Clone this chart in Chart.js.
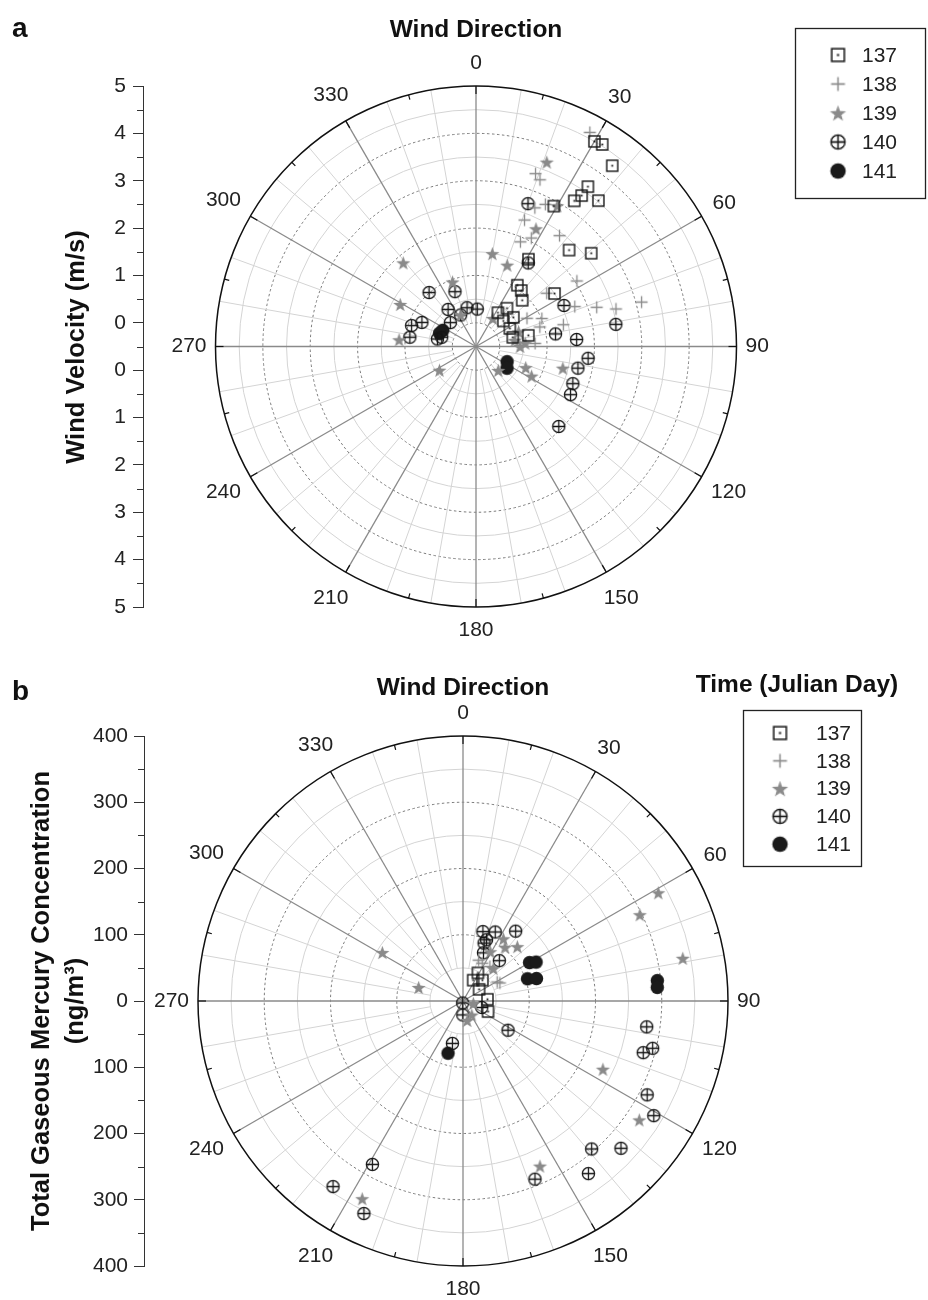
<!DOCTYPE html>
<html>
<head>
<meta charset="utf-8">
<script src="https://cdn.jsdelivr.net/npm/chart.js@4.4.0/dist/chart.umd.min.js"></script>
<style>
  body { margin: 0; background: #fff; }
  #wrap { position: relative; width: 928px; height: 1300px; }
  canvas { position: absolute; left: 0; }
  #chartA { top: 0; }
  #chartB { top: 660px; }
</style>
</head>
<body>
<div id="wrap">
  <canvas id="chartA" width="928" height="660"></canvas>
  <canvas id="chartB" width="928" height="640"></canvas>
</div>
<script>
const FONT = '"Liberation Sans", Arial, sans-serif';
const dayLabels = ['137', '138', '139', '140', '141'];
const directionTicks = [0, 30, 60, 90, 120, 150, 180, 210, 240, 270, 300, 330];

// panel a: wind direction (deg) / wind velocity (m/s)
const a137Dir = [30, 32, 37, 35, 35, 34, 40, 29, 44, 51, 31, 34, 39, 45, 56, 33, 39, 47, 52, 62, 76, 78];
const a137Vel = [4.50, 4.53, 4.28, 3.62, 3.39, 3.21, 3.52, 2.89, 2.33, 2.63, 1.65, 1.06, 1.02, 0.88, 1.50, 0.35, 0.54, 0.29, 0.50, 0.31, 0.30, 0.63];
const a138Dir = [28, 19, 21, 26, 23, 21, 23, 27, 37, 57, 53, 68, 72, 75, 75, 61, 67, 73, 76, 87];
const a138Vel = [4.62, 3.36, 3.27, 2.84, 2.68, 2.36, 1.90, 2.07, 2.43, 2.04, 1.37, 1.75, 2.18, 2.56, 3.12, 0.73, 1.01, 0.91, 1.40, 0.75];
const a139Dir = [21, 30, 27, 10, 21, 340, 319, 299, 275, 237, 31, 71, 86, 90, 81, 137, 113, 118, 104, 334];
const a139Vel = [3.67, 2.93, 2.29, 1.49, 1.34, 0.95, 1.84, 1.33, 1.13, 0.42, 0.19, 0.45, 0.54, 0.43, 0.33, 0.19, 0.64, 0.83, 1.39, 0.24];
const a140Dir = [20, 32, 65, 81, 81, 86, 96, 102, 111, 117, 134, 339, 319, 323, 347, 2, 334, 294, 288, 278, 313, 281, 285];
const a140Vel = [2.71, 1.58, 1.55, 2.49, 1.20, 1.63, 1.88, 1.70, 1.69, 1.74, 1.93, 0.74, 1.01, 0.48, 0.34, 0.29, 0.24, 0.75, 0.93, 0.91, 0.24, 0.33, 0.25];
const a141Dir = [296, 290, 116, 125];
const a141Vel = [0.28, 0.32, 0.23, 0.30];
const velocityTicks = [5, 4, 3, 2, 1, 0];

// panel b: wind direction (deg) / TGM (ng/m3)
const b137Dir = [28, 26, 43, 54, 86, 113];
const b137Tgm = [48, 35, 43, 30, 37, 41];
const b138Dir = [21, 27, 38, 61, 64];
const b138Tgm = [66, 64, 66, 59, 62];
const b139Dir = [61, 64, 79, 116, 124, 155, 207, 301, 287, 33, 38, 45, 29, 43, 103, 148, 168];
const b139Tgm = [337, 297, 338, 235, 321, 275, 335, 142, 70, 112, 103, 116, 85, 67, 16, 25, 30];
const b140Dir = [16, 25, 37, 21, 20, 23, 42, 190, 181, 109, 123, 194, 98, 104, 106, 117, 121, 139, 133, 144, 158, 209, 215, 205];
const b140Tgm = [109, 115, 132, 99, 93, 79, 82, 3, 21, 30, 81, 66, 280, 295, 283, 312, 336, 296, 326, 322, 290, 282, 342, 354];
const b141Dir = [60, 62, 71, 73, 84, 86, 196];
const b141Tgm = [116, 125, 103, 116, 295, 294, 82];
const tgmTicks = [400, 300, 200, 100, 0];

function marker(kind) {
    const s = 17, m = s / 2;
    const c = document.createElement('canvas');
    c.width = s;
    c.height = s;
    const g = c.getContext('2d');
    g.lineWidth = 1.4;
    if (kind === 'square') {
        g.strokeStyle = '#151515';
        g.strokeRect(m - 5.5, m - 5.5, 11, 11);
        g.fillStyle = '#151515';
        g.fillRect(m - 0.9, m - 0.9, 1.8, 1.8);
    } else if (kind === 'plus') {
        g.strokeStyle = '#8a8a8a';
        g.lineWidth = 1.3;
        g.beginPath();
        g.moveTo(m, m - 6); g.lineTo(m, m + 6);
        g.moveTo(m - 6, m); g.lineTo(m + 6, m);
        g.stroke();
    } else if (kind === 'star') {
        g.fillStyle = '#8a8a8a';
        g.beginPath();
        for (let i = 0; i < 10; i++) {
            const r = i % 2 ? 3.0 : 7.4;
            const a = -Math.PI / 2 + i * Math.PI / 5;
            g.lineTo(m + r * Math.cos(a), m + r * Math.sin(a) + 0.7);
        }
        g.closePath();
        g.fill();
    } else if (kind === 'circlePlus') {
        g.strokeStyle = '#151515';
        g.lineWidth = 1.3;
        g.beginPath();
        g.arc(m, m, 6.1, 0, 2 * Math.PI);
        g.stroke();
        g.beginPath();
        g.moveTo(m, m - 6.1); g.lineTo(m, m + 6.1);
        g.moveTo(m - 6.1, m); g.lineTo(m + 6.1, m);
        g.stroke();
    } else {
        g.fillStyle = '#1a1a1a';
        g.beginPath();
        g.arc(m, m, 6.7, 0, 2 * Math.PI);
        g.fill();
    }
    return c;
}

const markers = ['square', 'plus', 'star', 'circlePlus', 'dot'].map(marker);

function toXY(dirs, vals, offset) {
    return dirs.map(function (d, i) {
        const a = d * Math.PI / 180;
        const r = vals[i] + offset;
        return { x: r * Math.sin(a), y: r * Math.cos(a) };
    });
}

function buildDatasets(series, offset) {
    return series.map(function (s, i) {
        return {
            label: dayLabels[i],
            data: toXY(s[0], s[1], offset),
            pointStyle: markers[i],
            pointRadius: 7,
            showLine: false
        };
    });
}

const polarGrid = {
    id: 'polarGrid',
    beforeDatasetsDraw(chart, args, o) {
        const { ctx, scales: { x, y } } = chart;
        const cx = x.getPixelForValue(0), cy = y.getPixelForValue(0);
        const unit = cy - y.getPixelForValue(1);
        const rad = v => (v + o.offset) * unit;
        const R = rad(o.rMax);
        const pt = (d, r) => {
            const a = d * Math.PI / 180;
            return [cx + r * Math.sin(a), cy - r * Math.cos(a)];
        };
        ctx.save();
        ctx.lineWidth = 1;
        for (let v = 0; v < o.rMax - 1e-6; v += o.step / 2) {
            const major = Math.abs(v / o.step - Math.round(v / o.step)) < 1e-6;
            const r = rad(v);
            if (r < 2) continue;
            ctx.beginPath();
            ctx.arc(cx, cy, r, 0, 2 * Math.PI);
            ctx.setLineDash(major ? [2.5, 2.5] : []);
            ctx.strokeStyle = major ? '#7a7a7a' : '#d4d4d4';
            ctx.stroke();
        }
        ctx.setLineDash([]);
        ctx.strokeStyle = '#d4d4d4';
        for (let d = 10; d < 360; d += 10) {
            if (d % 30 === 0) continue;
            const p0 = pt(d, rad(o.spokeStart)), p1 = pt(d, R);
            ctx.beginPath();
            ctx.moveTo(p0[0], p0[1]);
            ctx.lineTo(p1[0], p1[1]);
            ctx.stroke();
        }
        ctx.strokeStyle = '#8a8a8a';
        ctx.lineWidth = 1.3;
        for (let d = 0; d < 360; d += 30) {
            const p1 = pt(d, R);
            ctx.beginPath();
            ctx.moveTo(cx, cy);
            ctx.lineTo(p1[0], p1[1]);
            ctx.stroke();
        }
        ctx.strokeStyle = '#111';
        ctx.lineWidth = 1.5;
        ctx.beginPath();
        ctx.arc(cx, cy, R, 0, 2 * Math.PI);
        ctx.stroke();
        ctx.lineWidth = 1.2;
        for (let d = 0; d < 360; d += 15) {
            const p0 = pt(d, R - (d % 30 === 0 ? 8 : 5)), p1 = pt(d, R);
            ctx.beginPath();
            ctx.moveTo(p0[0], p0[1]);
            ctx.lineTo(p1[0], p1[1]);
            ctx.stroke();
        }
        ctx.fillStyle = '#222';
        ctx.font = '21px ' + FONT;
        ctx.textAlign = 'center';
        ctx.textBaseline = 'middle';
        directionTicks.forEach(function (d) {
            const t = String(d);
            const a = d * Math.PI / 180;
            const w = ctx.measureText(t).width;
            const gap = 9 + Math.abs(Math.sin(a)) * w / 2 + Math.abs(Math.cos(a)) * 14;
            const p = pt(d, R + gap);
            ctx.fillText(t, p[0], p[1]);
        });
        ctx.restore();
    },
    afterDraw(chart, args, o) {
        const { ctx, chartArea, scales: { y } } = chart;
        ctx.save();
        // minor ticks on the left axis
        ctx.strokeStyle = '#333';
        ctx.lineWidth = 1;
        o.minorTicks.forEach(function (v) {
            const py = Math.round(y.getPixelForValue(v)) + 0.5;
            ctx.beginPath();
            ctx.moveTo(chartArea.left - 6, py);
            ctx.lineTo(chartArea.left, py);
            ctx.stroke();
        });
        ctx.fillStyle = '#111';
        ctx.textBaseline = 'alphabetic';
        ctx.textAlign = 'left';
        ctx.font = 'bold 28px ' + FONT;
        ctx.fillText(o.letter, 12, o.letterY);
        ctx.font = 'bold 24.5px ' + FONT;
        ctx.textAlign = 'center';
        ctx.textBaseline = 'middle';
        ctx.fillText('Wind Direction', o.titleX, o.titleY);
        if (o.legendTitle) {
            ctx.fillText(o.legendTitle, o.legendTitleX, o.legendTitleY);
        }
        ctx.font = 'bold 25.5px ' + FONT;
        o.axisTitle.forEach(function (line) {
            ctx.save();
            ctx.translate(line[1], o.axisTitleY);
            ctx.rotate(-Math.PI / 2);
            ctx.fillText(line[0], 0, 0);
            ctx.restore();
        });
        // legend
        const L = o.legend;
        ctx.strokeStyle = '#222';
        ctx.lineWidth = 1.3;
        ctx.strokeRect(L.x, L.y, L.w, L.h);
        ctx.font = '21px ' + FONT;
        ctx.textAlign = 'left';
        ctx.fillStyle = '#222';
        dayLabels.forEach(function (lab, i) {
            const ry = L.row0 + i * L.rowStep;
            const m = markers[i];
            const w = m.width * 1.15, h = m.height * 1.15;
            ctx.drawImage(m, L.markX - w / 2, ry - h / 2, w, h);
            ctx.fillText(lab, L.textX, ry + 1);
        });
        ctx.restore();
    }
};

function makeChart(canvas, cfg) {
    return new Chart(canvas, {
        type: 'scatter',
        data: { datasets: cfg.datasets },
        options: {
            responsive: false,
            animation: false,
            events: [],
            layout: { padding: cfg.padding },
            plugins: {
                legend: { display: false },
                tooltip: { enabled: false },
                polarGrid: cfg.polar
            },
            scales: {
                x: { display: false, min: cfg.xMin, max: cfg.xMax },
                y: {
                    position: 'left',
                    min: cfg.yMin,
                    max: cfg.yMax,
                    afterFit: function (s) { s.width = cfg.axisX; },
                    afterBuildTicks: function (s) {
                        s.ticks = cfg.majorTicks.map(function (v) { return { value: v }; });
                    },
                    ticks: {
                        callback: cfg.tickLabel,
                        font: { family: FONT, size: 21 },
                        color: '#222',
                        padding: cfg.tickPad
                    },
                    grid: { drawOnChartArea: false, tickLength: 10, tickColor: '#333', tickWidth: 1 },
                    border: { color: '#333', width: 1 }
                }
            }
        },
        plugins: [polarGrid]
    });
}

// panel a: radial axis has a hole of 0.5 m/s at the centre
const aOffset = 0.5;
const aUnit = (607 - 86) / 11;
const aMajor = [];
const aMinor = [];
velocityTicks.forEach(function (v) {
    aMajor.push(v + aOffset, -(v + aOffset));
});
for (let v = 0; v <= 5; v++) {
    aMinor.push(v);
    if (v) aMinor.push(-v);
}

makeChart(document.getElementById('chartA'), {
    datasets: buildDatasets([[a137Dir, a137Vel], [a138Dir, a138Vel], [a139Dir, a139Vel], [a140Dir, a140Vel], [a141Dir, a141Vel]], aOffset),
    padding: { top: 86, bottom: 660 - 607, left: 0, right: 8 },
    axisX: 143,
    xMin: -(476 - 143) / aUnit,
    xMax: (920 - 476) / aUnit,
    yMin: -5.5,
    yMax: 5.5,
    majorTicks: aMajor,
    tickLabel: function (v) { return String(Math.round(Math.abs(v) - aOffset)); },
    tickPad: 7,
    polar: {
        offset: aOffset, rMax: 5, step: 1, spokeStart: 0,
        minorTicks: aMinor,
        letter: 'a', letterY: 37,
        titleX: 476, titleY: 30,
        axisTitle: [['Wind Velocity (m/s)', 77]], axisTitleY: 347,
        legend: { x: 795.5, y: 28.5, w: 130, h: 170, markX: 838, textX: 862, row0: 55, rowStep: 29 }
    }
});

// panel b
const bUnit = (606 - 76) / 800;
const bMajor = [];
tgmTicks.forEach(function (v) {
    bMajor.push(v);
    if (v) bMajor.push(-v);
});

makeChart(document.getElementById('chartB'), {
    datasets: buildDatasets([[b137Dir, b137Tgm], [b138Dir, b138Tgm], [b139Dir, b139Tgm], [b140Dir, b140Tgm], [b141Dir, b141Tgm]], 0),
    padding: { top: 76, bottom: 640 - 606, left: 0, right: 8 },
    axisX: 144,
    xMin: -(463 - 144) / bUnit,
    xMax: (920 - 463) / bUnit,
    yMin: -400,
    yMax: 400,
    majorTicks: bMajor,
    tickLabel: function (v) { return String(Math.abs(v)); },
    tickPad: 6,
    polar: {
        offset: 0, rMax: 400, step: 100, spokeStart: 50,
        minorTicks: [350, 250, 150, 50, -50, -150, -250, -350],
        letter: 'b', letterY: 40,
        titleX: 463, titleY: 28,
        legendTitle: 'Time (Julian Day)', legendTitleX: 797, legendTitleY: 25,
        axisTitle: [['Total Gaseous Mercury Concentration', 42], ['(ng/m³)', 76]], axisTitleY: 341,
        legend: { x: 743.5, y: 50.5, w: 118, h: 156, markX: 780, textX: 816, row0: 73, rowStep: 27.8 }
    }
});
</script>
</body>
</html>
